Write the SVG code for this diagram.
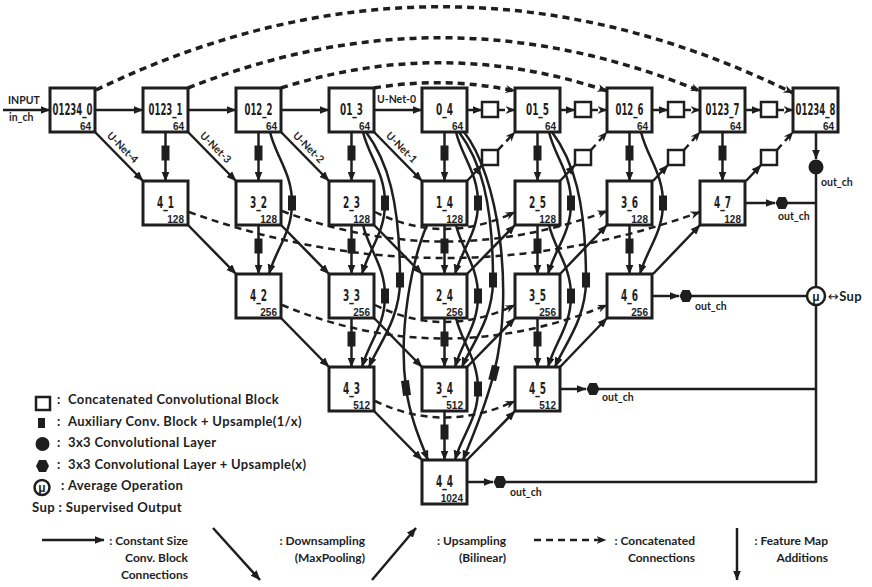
<svg xmlns="http://www.w3.org/2000/svg" width="872" height="587" viewBox="0 0 872 587">
<style>
.box{fill:#fff;stroke:#1e1e1e;stroke-width:3}
.cat{fill:#fff;stroke:#1e1e1e;stroke-width:2.5}
.lbl{font-family:"DejaVu Sans",sans-serif;font-weight:bold;font-size:16px;text-anchor:middle;fill:#1e1e1e}
.ch{font-family:"Liberation Sans",Arial,sans-serif;font-weight:bold;font-size:10px;text-anchor:end;fill:#1e1e1e}
.ln{fill:none;stroke:#1e1e1e;stroke-width:2.5}
.arr{marker-end:url(#ah)}
.aux{marker-mid:url(#aux)}
.dash{stroke-dasharray:7 5;marker-end:url(#ahn)}
.arc{stroke-width:3.5;stroke-dasharray:7 5;marker-end:url(#ahn)}
.tag{font-family:Lato,"Liberation Sans",sans-serif;font-weight:bold;font-size:10.5px;fill:#1e1e1e}
.leg{font-family:Lato,"Liberation Sans",sans-serif;font-weight:bold;font-size:13px;letter-spacing:0.35px;fill:#1e1e1e}
.key{font-family:Lato,"Liberation Sans",sans-serif;font-weight:bold;font-size:12px;fill:#1e1e1e;text-anchor:end}
.dot{fill:#1e1e1e}
.mu{font-family:"Liberation Sans",Arial,sans-serif;font-weight:bold;font-size:12px;text-anchor:middle;fill:#1e1e1e}
</style>
<defs>
<marker id="ah" viewBox="0 0 10 8" refX="9.5" refY="4" markerWidth="10" markerHeight="8" markerUnits="userSpaceOnUse" orient="auto"><path d="M0,0 L10,4 L0,8 z" fill="#1e1e1e"/></marker>
<marker id="ahn" viewBox="0 0 10 8" refX="9.5" refY="4" markerWidth="10" markerHeight="8" markerUnits="userSpaceOnUse" orient="auto"><path d="M0,0 L10,4 L0,8 L3,4 z" fill="#1e1e1e"/></marker>
<marker id="aux" viewBox="-8 -4.5 16 9" refX="0" refY="0" markerWidth="16" markerHeight="9" markerUnits="userSpaceOnUse" orient="auto"><rect x="-7.5" y="-4" width="15" height="8" fill="#1e1e1e"/></marker>
<polygon id="hex" points="-6.5,0 -3.5,-6 3.5,-6 6.5,0 3.5,6 -3.5,6"/>
</defs>
<rect width="872" height="587" fill="#fff"/>

<!-- connectors -->
<g id="connectors">
  <!-- same-size block chain along the top row -->
  <path class="ln arr" d="M3,110 H50"/>
  <path class="ln arr" d="M95,110 H143"/>
  <path class="ln arr" d="M188,110 H236"/>
  <path class="ln arr" d="M281,110 H329"/>
  <path class="ln arr" d="M374,110 H422"/>
  <path class="ln arr" d="M467,110 H482"/>
  <path class="ln arr" d="M560,110 H575"/>
  <path class="ln arr" d="M653,110 H668"/>
  <path class="ln arr" d="M746,110 H761"/>
  <path class="ln dash" d="M498,110 H515"/>
  <path class="ln dash" d="M591,110 H607"/>
  <path class="ln dash" d="M684,110 H700"/>
  <path class="ln dash" d="M777,110 H793"/>

  <!-- level-1 decoders up into the concatenation blocks -->
  <path class="ln arr" d="M467,181 L482,165"/>
  <path class="ln arr" d="M560,181 L575,165"/>
  <path class="ln arr" d="M653,181 L668,165"/>
  <path class="ln arr" d="M746,181 L761,165"/>
  <path class="ln dash" d="M498,150 L515,132"/>
  <path class="ln dash" d="M591,150 L607,132"/>
  <path class="ln dash" d="M684,150 L700,132"/>
  <path class="ln dash" d="M777,150 L793,132"/>

  <!-- vertical auxiliary blocks -->
  <path class="ln arr aux" d="M165.5,132 V153 V181"/>
  <path class="ln arr aux" d="M258.5,132 V153 V181"/>
  <path class="ln arr aux" d="M351.5,132 V153 V181"/>
  <path class="ln arr aux" d="M444.5,132 V153 V181"/>
  <path class="ln arr aux" d="M537.5,132 V153 V181"/>
  <path class="ln arr aux" d="M629.5,132 V153 V181"/>
  <path class="ln arr aux" d="M722.5,132 V153 V181"/>
  <path class="ln arr aux" d="M258.5,225 V246 V274"/>
  <path class="ln arr aux" d="M351.5,225 V246 V274"/>
  <path class="ln arr aux" d="M444.5,225 V246 V274"/>
  <path class="ln arr aux" d="M537.5,225 V246 V274"/>
  <path class="ln arr aux" d="M629.5,225 V246 V274"/>
  <path class="ln arr aux" d="M351.5,318 V339 V367"/>
  <path class="ln arr aux" d="M444.5,318 V339 V367"/>
  <path class="ln arr aux" d="M537.5,318 V339 V367"/>
  <path class="ln arr aux" d="M444.5,411 V432 V460"/>

  <!-- downsampling -->
  <path class="ln arr" d="M95,132 L143,181"/>
  <path class="ln arr" d="M188,132 L236,181"/>
  <path class="ln arr" d="M281,132 L329,181"/>
  <path class="ln arr" d="M374,132 L422,181"/>
  <path class="ln arr" d="M188,225 L236,274"/>
  <path class="ln arr" d="M281,225 L329,274"/>
  <path class="ln arr" d="M374,225 L422,274"/>
  <path class="ln arr" d="M281,318 L329,367"/>
  <path class="ln arr" d="M374,318 L422,367"/>
  <path class="ln arr" d="M374,411 L422,460"/>

  <!-- upsampling -->
  <path class="ln arr" d="M467,460 L515,411"/>
  <path class="ln arr" d="M467,367 L515,318"/>
  <path class="ln arr" d="M467,274 L515,225"/>
  <path class="ln arr" d="M560,367 L607,318"/>
  <path class="ln arr" d="M560,274 L607,225"/>
  <path class="ln arr" d="M653,274 L700,225"/>

  <!-- top-level skip concatenations -->
  <path class="ln arc" d="M96,90 Q444,-78 793,93"/>
  <path class="ln arc" d="M188,88 Q444,-14 700,91"/>
  <path class="ln arc" d="M281,88 Q444,36 607,91"/>
  <path class="ln arc" d="M374,88 Q444,76 515,91"/>

  <!-- deeper skip concatenations -->
  <path class="ln dash" d="M189,212 Q444,304 700,212"/>
  <path class="ln dash" d="M282,211 Q444,272 607,211"/>
  <path class="ln dash" d="M375,212 Q444,246 515,212"/>
  <path class="ln dash" d="M282,305 Q444,372 607,305"/>
  <path class="ln dash" d="M375,305 Q444,339 515,305"/>
  <path class="ln dash" d="M375,401 Q444,434 515,401"/>

  <!-- feature map additions -->
  <path class="ln arr aux" d="M270,132 C276,157 292,173 292,203 C292,233 276,249 269,274"/>
  <path class="ln arr aux" d="M363,132 C369,157 385,173 385,203 C385,233 369,249 362,274"/>
  <path class="ln arr aux" d="M363,225 C369,250 385,266 385,296 C385,326 369,342 362,367"/>
  <path class="ln arr aux" d="M456,132 C462,157 478,173 478,203 C478,233 462,249 455,274"/>
  <path class="ln arr aux" d="M456,225 C462,250 478,266 478,296 C478,326 462,342 455,367"/>
  <path class="ln arr aux" d="M456,318 C462,343 478,359 478,389 C478,419 462,435 455,460"/>
  <path class="ln arr aux" d="M549,132 C555,157 571,173 571,203 C571,233 555,249 548,274"/>
  <path class="ln arr aux" d="M549,225 C555,250 571,266 571,296 C571,326 555,342 548,367"/>
  <path class="ln arr aux" d="M641,132 C647,157 663,173 663,203 C663,233 647,249 640,274"/>
  <path class="ln arr aux" d="M366,132 C387,160 400,200 400,280 C400,320 378,345 369,367"/>
  <path class="ln arr aux" d="M459,132 C480,160 493,200 493,280 C493,320 471,345 462,367"/>
  <path class="ln arr aux" d="M552,132 C573,160 586,200 586,280 C586,320 564,345 555,367"/>
  <path class="ln arr aux" d="M464,132 C498,175 515,290 494,373 C484,412 470,442 463,460"/>
  <path class="ln arr aux" d="M427,225 C412,260 398,330 406,388 C410,417 420,440 428,460"/>

  <!-- deep-supervision outputs -->
  <path class="ln arr" d="M816,132 V159"/>
  <path class="ln" d="M816,167 V483"/>
  <path class="ln arr" d="M746,203 H775"/>
  <path class="ln" d="M788,203 H816"/>
  <path class="ln arr" d="M653,296 H679"/>
  <path class="ln" d="M692,296 H810"/>
  <path class="ln arr" d="M560,389 H586"/>
  <path class="ln" d="M599,389 H816"/>
  <path class="ln arr" d="M467,482 H493"/>
  <path class="ln" d="M506,482 H816"/>
</g>

<!-- arrow tags -->
<g id="tags">
  <text class="tag" x="8" y="104" font-size="9.5">INPUT</text>
  <text class="tag" x="9" y="121">in_ch</text>
  <text class="tag" x="396.5" y="103" text-anchor="middle">U-Net-0</text>
  <text class="tag" text-anchor="middle" transform="translate(120,150) rotate(45)">U-Net-4</text>
  <text class="tag" text-anchor="middle" transform="translate(213,150) rotate(45)">U-Net-3</text>
  <text class="tag" text-anchor="middle" transform="translate(306,150) rotate(45)">U-Net-2</text>
  <text class="tag" text-anchor="middle" transform="translate(399,150) rotate(45)">U-Net-1</text>
</g>

<!-- concatenation blocks -->
<g id="cat-01_5-a"><rect class="cat" x="482" y="102" width="16" height="15"/></g>
<g id="cat-012_6-a"><rect class="cat" x="575" y="102" width="16" height="15"/></g>
<g id="cat-0123_7-a"><rect class="cat" x="668" y="102" width="16" height="15"/></g>
<g id="cat-01234_8-a"><rect class="cat" x="761" y="102" width="16" height="15"/></g>
<g id="cat-01_5-b"><rect class="cat" x="482" y="150" width="16" height="15"/></g>
<g id="cat-012_6-b"><rect class="cat" x="575" y="150" width="16" height="15"/></g>
<g id="cat-0123_7-b"><rect class="cat" x="668" y="150" width="16" height="15"/></g>
<g id="cat-01234_8-b"><rect class="cat" x="761" y="150" width="16" height="15"/></g>

<!-- level 0 -->
<g id="node-01234_0"><rect class="box" x="50" y="88" width="45" height="44"/><text class="lbl" x="72.5" y="115" textLength="40" lengthAdjust="spacingAndGlyphs">01234_0</text><text class="ch" x="91" y="129.5">64</text></g>
<g id="node-0123_1"><rect class="box" x="143" y="88" width="45" height="44"/><text class="lbl" x="165.5" y="115" textLength="34" lengthAdjust="spacingAndGlyphs">0123_1</text><text class="ch" x="184" y="129.5">64</text></g>
<g id="node-012_2"><rect class="box" x="236" y="88" width="45" height="44"/><text class="lbl" x="258.5" y="115" textLength="28" lengthAdjust="spacingAndGlyphs">012_2</text><text class="ch" x="277" y="129.5">64</text></g>
<g id="node-01_3"><rect class="box" x="329" y="88" width="45" height="44"/><text class="lbl" x="351.5" y="115" textLength="23" lengthAdjust="spacingAndGlyphs">01_3</text><text class="ch" x="370" y="129.5">64</text></g>
<g id="node-0_4"><rect class="box" x="422" y="88" width="45" height="44"/><text class="lbl" x="444.5" y="115" textLength="17" lengthAdjust="spacingAndGlyphs">0_4</text><text class="ch" x="463" y="129.5">64</text></g>
<g id="node-01_5"><rect class="box" x="515" y="88" width="45" height="44"/><text class="lbl" x="537.5" y="115" textLength="23" lengthAdjust="spacingAndGlyphs">01_5</text><text class="ch" x="556" y="129.5">64</text></g>
<g id="node-012_6"><rect class="box" x="607" y="88" width="45" height="44"/><text class="lbl" x="629.5" y="115" textLength="28" lengthAdjust="spacingAndGlyphs">012_6</text><text class="ch" x="648" y="129.5">64</text></g>
<g id="node-0123_7"><rect class="box" x="700" y="88" width="45" height="44"/><text class="lbl" x="722.5" y="115" textLength="34" lengthAdjust="spacingAndGlyphs">0123_7</text><text class="ch" x="741" y="129.5">64</text></g>
<g id="node-01234_8"><rect class="box" x="793" y="88" width="45" height="44"/><text class="lbl" x="815.5" y="115" textLength="40" lengthAdjust="spacingAndGlyphs">01234_8</text><text class="ch" x="834" y="129.5">64</text></g>

<!-- level 1 -->
<g id="node-4_1"><rect class="box" x="143" y="181" width="45" height="44"/><text class="lbl" x="165.5" y="208" textLength="17" lengthAdjust="spacingAndGlyphs">4_1</text><text class="ch" x="184" y="222.5">128</text></g>
<g id="node-3_2"><rect class="box" x="236" y="181" width="45" height="44"/><text class="lbl" x="258.5" y="208" textLength="17" lengthAdjust="spacingAndGlyphs">3_2</text><text class="ch" x="277" y="222.5">128</text></g>
<g id="node-2_3"><rect class="box" x="329" y="181" width="45" height="44"/><text class="lbl" x="351.5" y="208" textLength="17" lengthAdjust="spacingAndGlyphs">2_3</text><text class="ch" x="370" y="222.5">128</text></g>
<g id="node-1_4"><rect class="box" x="422" y="181" width="45" height="44"/><text class="lbl" x="444.5" y="208" textLength="17" lengthAdjust="spacingAndGlyphs">1_4</text><text class="ch" x="463" y="222.5">128</text></g>
<g id="node-2_5"><rect class="box" x="515" y="181" width="45" height="44"/><text class="lbl" x="537.5" y="208" textLength="17" lengthAdjust="spacingAndGlyphs">2_5</text><text class="ch" x="556" y="222.5">128</text></g>
<g id="node-3_6"><rect class="box" x="607" y="181" width="45" height="44"/><text class="lbl" x="629.5" y="208" textLength="17" lengthAdjust="spacingAndGlyphs">3_6</text><text class="ch" x="648" y="222.5">128</text></g>
<g id="node-4_7"><rect class="box" x="700" y="181" width="45" height="44"/><text class="lbl" x="722.5" y="208" textLength="17" lengthAdjust="spacingAndGlyphs">4_7</text><text class="ch" x="741" y="222.5">128</text></g>

<!-- level 2 -->
<g id="node-4_2"><rect class="box" x="236" y="274" width="45" height="44"/><text class="lbl" x="258.5" y="301" textLength="17" lengthAdjust="spacingAndGlyphs">4_2</text><text class="ch" x="277" y="315.5">256</text></g>
<g id="node-3_3"><rect class="box" x="329" y="274" width="45" height="44"/><text class="lbl" x="351.5" y="301" textLength="17" lengthAdjust="spacingAndGlyphs">3_3</text><text class="ch" x="370" y="315.5">256</text></g>
<g id="node-2_4"><rect class="box" x="422" y="274" width="45" height="44"/><text class="lbl" x="444.5" y="301" textLength="17" lengthAdjust="spacingAndGlyphs">2_4</text><text class="ch" x="463" y="315.5">256</text></g>
<g id="node-3_5"><rect class="box" x="515" y="274" width="45" height="44"/><text class="lbl" x="537.5" y="301" textLength="17" lengthAdjust="spacingAndGlyphs">3_5</text><text class="ch" x="556" y="315.5">256</text></g>
<g id="node-4_6"><rect class="box" x="607" y="274" width="45" height="44"/><text class="lbl" x="629.5" y="301" textLength="17" lengthAdjust="spacingAndGlyphs">4_6</text><text class="ch" x="648" y="315.5">256</text></g>

<!-- level 3 -->
<g id="node-4_3"><rect class="box" x="329" y="367" width="45" height="44"/><text class="lbl" x="351.5" y="394" textLength="17" lengthAdjust="spacingAndGlyphs">4_3</text><text class="ch" x="370" y="408.5">512</text></g>
<g id="node-3_4"><rect class="box" x="422" y="367" width="45" height="44"/><text class="lbl" x="444.5" y="394" textLength="17" lengthAdjust="spacingAndGlyphs">3_4</text><text class="ch" x="463" y="408.5">512</text></g>
<g id="node-4_5"><rect class="box" x="515" y="367" width="45" height="44"/><text class="lbl" x="537.5" y="394" textLength="17" lengthAdjust="spacingAndGlyphs">4_5</text><text class="ch" x="556" y="408.5">512</text></g>

<!-- level 4 -->
<g id="node-4_4"><rect class="box" x="422" y="460" width="45" height="44"/><text class="lbl" x="444.5" y="487" textLength="17" lengthAdjust="spacingAndGlyphs">4_4</text><text class="ch" x="463" y="501.5">1024</text></g>

<!-- output heads -->
<g id="out-8"><circle class="dot" cx="816" cy="167" r="7.5"/><text class="tag" x="821" y="186">out_ch</text></g>
<g id="out-7"><use href="#hex" x="782" y="203" class="dot"/><text class="tag" x="778" y="220">out_ch</text></g>
<g id="out-6"><use href="#hex" x="686" y="296" class="dot"/><text class="tag" x="695" y="310">out_ch</text></g>
<g id="out-5"><use href="#hex" x="593" y="389" class="dot"/><text class="tag" x="602" y="401">out_ch</text></g>
<g id="out-4"><use href="#hex" x="500" y="482" class="dot"/><text class="tag" x="510" y="496">out_ch</text></g>
<g id="average"><circle cx="816" cy="296" r="9" fill="#fff" stroke="#1e1e1e" stroke-width="2.5"/><text class="mu" x="816" y="300.5">μ</text><text class="leg" x="828" y="300.5" letter-spacing="0"><tspan font-family="DejaVu Sans, sans-serif" font-weight="normal">↔</tspan>Sup</text></g>

<!-- symbol key -->
<g id="key-symbols">
  <rect class="cat" x="36" y="397" width="14" height="13"/>
  <text class="leg" x="57" y="404">:</text><text class="leg" x="68" y="404">Concatenated Convolutional Block</text>
  <rect class="dot" x="38" y="418" width="7" height="10"/>
  <text class="leg" x="57" y="425.5">:</text><text class="leg" x="68" y="425.5">Auxiliary Conv. Block + Upsample(1/x)</text>
  <circle class="dot" cx="42.5" cy="444" r="7"/>
  <text class="leg" x="57" y="447">:</text><text class="leg" x="68" y="447">3x3 Convolutional Layer</text>
  <use href="#hex" x="42.5" y="466" class="dot"/>
  <text class="leg" x="57" y="468.5">:</text><text class="leg" x="68" y="468.5">3x3 Convolutional Layer + Upsample(x)</text>
  <circle cx="42" cy="487.5" r="7.5" fill="#fff" stroke="#1e1e1e" stroke-width="2.5"/><text class="mu" x="42" y="491.5" font-size="11">μ</text>
  <text class="leg" x="61" y="490">:</text><text class="leg" x="68" y="490">Average Operation</text>
  <text class="leg" x="32" y="511.5" textLength="150" lengthAdjust="spacingAndGlyphs">Sup : Supervised Output</text>
</g>

<!-- connector key -->
<g id="key-lines">
  <path class="ln arr" d="M42,540 H104"/>
  <text class="key" x="188" y="545">: Constant Size</text>
  <text class="key" x="188" y="562">Conv. Block</text>
  <text class="key" x="188" y="579">Connections</text>
  <path class="ln arr" d="M213,528 L260,580"/>
  <text class="key" x="365" y="545">: Downsampling</text>
  <text class="key" x="365" y="562">(MaxPooling)</text>
  <path class="ln arr" d="M372,580 L416,528"/>
  <text class="key" x="506" y="545">: Upsampling</text>
  <text class="key" x="506" y="562">(Bilinear)</text>
  <path class="ln dash" d="M534,540 H606"/>
  <text class="key" x="695" y="545">: Concatenated</text>
  <text class="key" x="695" y="562">Connections</text>
  <path class="ln arr" d="M737,528 V580"/>
  <text class="key" x="828" y="545">: Feature Map</text>
  <text class="key" x="828" y="562">Additions</text>
</g>
</svg>
